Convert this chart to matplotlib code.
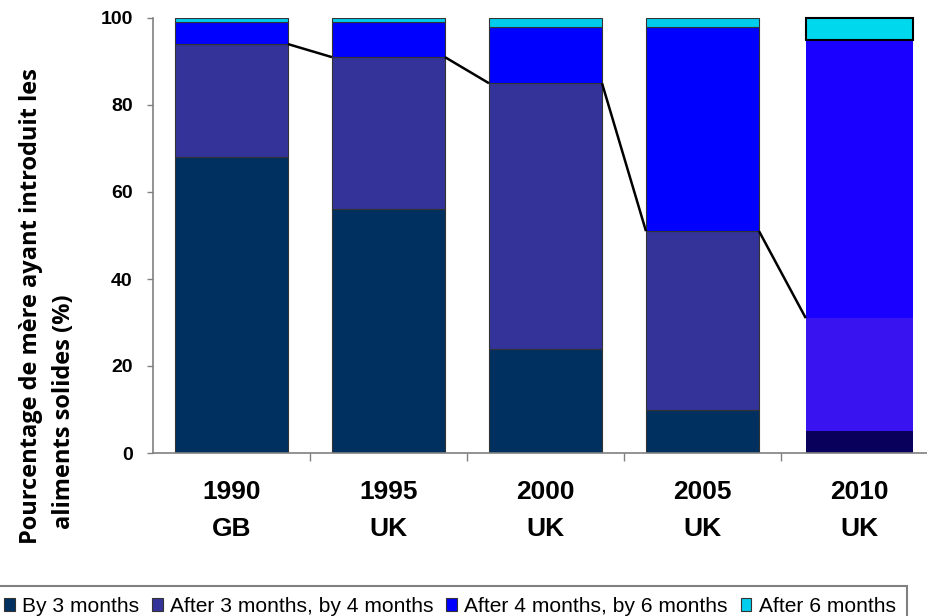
import matplotlib
matplotlib.use("Agg")
import matplotlib.pyplot as plt
from matplotlib.patches import Patch
import numpy as np

years = ["1990", "1995", "2000", "2005", "2010"]
regions = ["GB", "UK", "UK", "UK", "UK"]
series_names = ["By 3 months", "After 3 months, by 4 months",
                "After 4 months, by 6 months", "After 6 months"]
by3 = [68, 56, 24, 10, 5]
by4 = [26, 35, 61, 41, 26]
by6 = [5, 8, 13, 47, 64]
after6 = [1, 1, 2, 2, 5]

colors = ["#003060", "#333399", "#0000FF", "#00CCEE"]
colors_2010 = ["#08005A", "#3A14F0", "#1900FF", "#00D8EE"]

fig = plt.figure(figsize=(9.27, 6.16), dpi=100)
W, H = 927, 616
ax = fig.add_axes([153 / W, (616 - 453) / H, 785 / W, 435 / H])

x = np.arange(len(years))
width = 0.72
data = [by3, by4, by6, after6]
bottom = np.zeros(len(years))
for si, vals in enumerate(data):
    for i in range(len(years)):
        if i == 4:
            ec = "black" if si == 3 else "none"
            lw = 1.5 if si == 3 else 0
            ax.bar(x[i], vals[i], width * 0.95, bottom=bottom[i], color=colors_2010[si],
                   edgecolor=ec, linewidth=lw, zorder=2, clip_on=False)
        else:
            ax.bar(x[i], vals[i], width, bottom=bottom[i], color=colors[si],
                   edgecolor="#333333", linewidth=0.8, zorder=2)
    bottom = bottom + np.array(vals)

# series line linking tops of "by 4 months" cumulative
cum4 = np.array(by3) + np.array(by4)
for i in range(len(years) - 1):
    w_next = width * 0.95 if i + 1 == 4 else width
    ax.plot([x[i] + width / 2, x[i + 1] - w_next / 2], [cum4[i], cum4[i + 1]],
            color="black", linewidth=1.8, zorder=3, solid_capstyle="butt")

ax.set_xlim(-0.5, 4.5)
ax.set_ylim(0, 100)
ax.set_yticks([0, 20, 40, 60, 80, 100])
ax.set_yticklabels(["0", "20", "40", "60", "80", "100"])
ax.set_xticks(np.arange(0.5, 4.5, 1.0))
ax.set_xticklabels([])
ax.tick_params(axis="y", direction="out", length=4, width=1, color="#808080", pad=10.5,
               labelsize=14)
ax.tick_params(axis="x", direction="out", length=6, width=1, color="#808080")
for lab in ax.get_yticklabels():
    lab.set_fontfamily("Liberation Sans")
    lab.set_fontweight("bold")
for s in ["top", "right"]:
    ax.spines[s].set_visible(False)
for s in ["left", "bottom"]:
    ax.spines[s].set_color("#808080")
    ax.spines[s].set_linewidth(1.2)

for i in range(len(years)):
    ax.text(x[i], -9.0, years[i], ha="center", va="center", fontsize=19,
            fontweight="bold", family="Liberation Sans")
    ax.text(x[i], -17.5, regions[i], ha="center", va="center", fontsize=19,
            fontweight="bold", family="Liberation Sans")

fig.text(31 / W, 1 - 306 / H, "Pourcentage de mère ayant introduit les", rotation=90,
         ha="center", va="center", fontsize=17, fontweight="bold", family="Open Sans")
fig.text(64 / W, 1 - 412 / H, "aliments solides (%)", rotation=90,
         ha="center", va="center", fontsize=17, fontweight="bold", family="Open Sans")

handles = [Patch(facecolor=c, edgecolor="#333333", linewidth=0.8) for c in colors]
leg = fig.legend(handles, series_names, loc="upper left", ncol=4,
                 bbox_to_anchor=(-7 / W, 1 - 586 / H),
                 prop={"family": "Liberation Sans", "size": 15.1},
                 handlelength=0.52, handleheight=0.52,
                 handletextpad=0.35, columnspacing=0.6, borderpad=0.52, fancybox=False,
                 edgecolor="#808080", framealpha=1, borderaxespad=0)
leg.get_frame().set_linewidth(1.5)

fig.savefig("out.png", dpi=100)
